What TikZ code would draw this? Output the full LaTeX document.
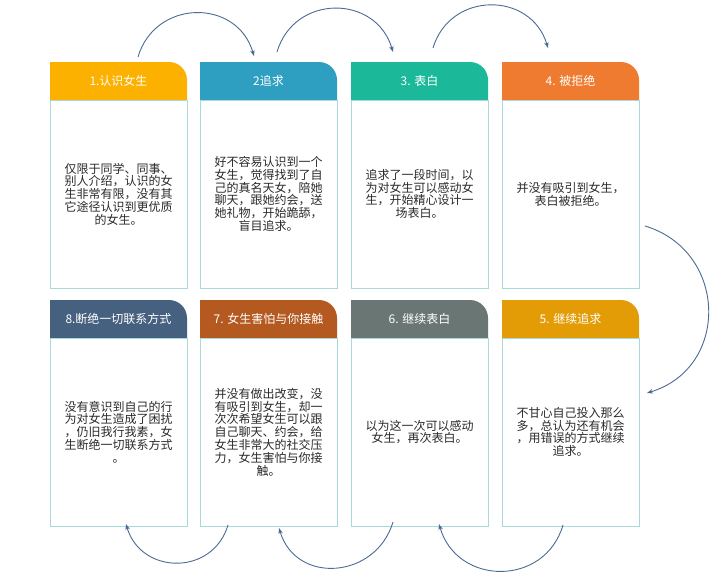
\documentclass[tikz,border=0pt]{standalone}
\usepackage{fontspec}
\newfontfamily\cjk{Noto Sans CJK SC}
\usetikzlibrary{arrows.meta,calc}
\definecolor{colA}{HTML}{FCB000}
\definecolor{colB}{HTML}{2E9FC1}
\definecolor{colC}{HTML}{1BB899}
\definecolor{colD}{HTML}{EE7B30}
\definecolor{colE}{HTML}{E39C05}
\definecolor{colF}{HTML}{6A7674}
\definecolor{colG}{HTML}{B4591F}
\definecolor{colH}{HTML}{46607F}
\definecolor{bordc}{HTML}{A8DADB}
\definecolor{txtc}{HTML}{2A2A2A}
\definecolor{arrc}{HTML}{4A6C94}
\tikzset{
  headbox/.style={minimum width=137pt, minimum height=38pt, inner sep=0pt, outer sep=0pt, anchor=north west,
    text=white, font=\cjk\fontsize{12}{14}\selectfont},
  bodybox/.style={draw=bordc, line width=0.8pt, minimum width=137pt, minimum height=188pt, inner sep=0pt, outer sep=0pt, anchor=north west},
  bodytxt/.style={text=txtc, align=center, font=\cjk\fontsize{12}{12.8}\selectfont, inner sep=0pt},
  arr/.style={draw=arrc, line width=0.9pt, -{Stealth[length=6pt,width=4.5pt]}}
}
\newcommand\mycard[6]{%
  \fill[#4] (#2,#3+38) -- (#2,#3) -- (#2+119,#3) arc[start angle=270,end angle=360,radius=18] -- (#2+137,#3+38) -- cycle;
  \node[headbox] (#1h) at (#2,#3) {#5};
  \node[bodybox] (#1) at (#2,#3+38) {};
  \node[bodytxt] (#1t) at (#1.center) {#6};
}
\begin{document}
\begin{tikzpicture}[x=1pt,y=-1pt]
\useasboundingbox[fill=white] (0,0) rectangle (713,576);
\mycard{c1}{50}{62}{colA}{1.认识女生}{仅限于同学、同事、\\别人介绍，认识的女\\生非常有限，没有其\\它途径认识到更优质\\的女生。}
\mycard{c2}{200}{62}{colB}{2追求}{好不容易认识到一个\\女生，觉得找到了自\\己的真名天女，陪她\\聊天，跟她约会，送\\她礼物，开始跪舔，\\盲目追求。}
\mycard{c3}{351}{62}{colC}{3. 表白}{追求了一段时间，以\\为对女生可以感动女\\生，开始精心设计一\\场表白。}
\mycard{c4}{502}{62}{colD}{4. 被拒绝}{并没有吸引到女生，\\表白被拒绝。}
\mycard{c8}{50}{300}{colH}{8.断绝一切联系方式}{没有意识到自己的行\\为对女生造成了困扰\\，仍旧我行我素，女\\生断绝一切联系方式\\。}
\mycard{c7}{200}{300}{colG}{7. 女生害怕与你接触}{并没有做出改变，没\\有吸引到女生，却一\\次次希望女生可以跟\\自己聊天、约会，给\\女生非常大的社交压\\力，女生害怕与你接\\触。}
\mycard{c6}{351}{300}{colF}{6. 继续表白}{以为这一次可以感动\\女生，再次表白。}
\mycard{c5}{502}{300}{colE}{5. 继续追求}{不甘心自己投入那么\\多，总认为还有机会\\，用错误的方式继续\\追求。}
% top arcs
\draw[arr] ($(c1h.north west)+(88,-5)$) .. controls +(17,-58) and +(-17,-58) .. ($(c2h.north west)+(54,-6)$);
\draw[arr] ($(c2h.north west)+(77,-10)$) .. controls +(17,-58) and +(-17,-58) .. ($(c3h.north west)+(42,-10)$);
\draw[arr] ($(c3h.north west)+(82,-14)$) .. controls +(17,-57) and +(-17,-57) .. ($(c4h.north west)+(46,-14)$);
% right arc
\draw[arr] ($(c4.south east)+(6,-62)$) .. controls +(83,25) and +(83,-25) .. ($(c5.east)+(8,-39)$);
% bottom arcs
\draw[arr] ($(c5.south west)+(61,-1)$) .. controls +(-18,62) and +(18,62) .. ($(c6.south west)+(88,-2)$);
\draw[arr] ($(c6.south west)+(42,-4)$) .. controls +(-17,57) and +(17,57) .. ($(c7.south west)+(79,2)$);
\draw[arr] ($(c7.south west)+(28,-1)$) .. controls +(-15,51) and +(15,51) .. ($(c8.south west)+(76,-2)$);
\end{tikzpicture}
\end{document}
